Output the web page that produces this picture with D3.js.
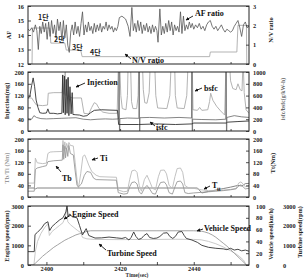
<!DOCTYPE html>
<html><head><meta charset="utf-8">
<script src="https://cdn.jsdelivr.net/npm/d3@7"></script>
<style>
html,body{margin:0;padding:0;background:#fff;}
svg{display:block;}
</style></head>
<body><svg id="c" width="304" height="278"></svg>
<script>
// ---------------- DATA ----------------
const timeDomain = [2395, 2455];
const timeTicks = [2400, 2420, 2440];
const timeMinorTicks = [2410, 2430, 2450];

const afTicks = [12, 13, 14, 15, 16];
const nvTicks = [0, 1, 2, 3];
const injTicks = [0, 40, 80, 120, 160, 200];
const sfcTicks = [0, 200, 400, 600, 800, 1000];
const torqueTicks = [0, 40, 80, 120, 160, 200];
const ttTicks = [0, 40, 80, 120, 160, 200];
const engTicks = [0, 1000, 2000, 3000];
const vehTicks = [0, 20, 40, 60, 80, 100];
const turbTicks = [0, 1000, 2000, 3000];

const gearLabels = ["1단", "2단", "3단", "4단"];

// AF ratio [time, AF]
const afData = [[2395.0,14.4],[2395.5,14.3],[2396.0,14.5],[2396.5,14.2],[2397.0,14.7],[2397.4,14.3],[2397.8,13.0],[2398.2,14.6],[2398.6,14.1],[2399.0,14.9],[2399.4,14.2],[2399.8,14.8],[2400.2,13.7],[2400.6,14.9],[2401.0,13.9],[2401.4,15.0],[2401.8,14.1],[2402.2,14.7],[2402.6,13.8],[2403.0,15.1],[2403.4,14.3],[2403.8,14.9],[2404.2,13.6],[2404.6,15.0],[2405.0,13.8],[2405.4,14.7],[2405.8,13.3],[2406.2,12.8],[2406.6,14.2],[2407.0,14.7],[2407.4,14.0],[2407.8,14.9],[2408.2,14.1],[2408.6,14.6],[2409.0,13.9],[2409.4,14.8],[2409.8,15.6],[2410.2,14.0],[2410.6,14.7],[2411.0,14.2],[2411.4,14.9],[2411.8,14.3],[2412.2,14.6],[2412.6,14.1],[2413.0,14.8],[2413.4,14.2],[2413.8,14.7],[2414.2,14.3],[2414.6,14.8],[2415.0,14.2],[2415.4,14.6],[2415.8,14.4],[2416.2,14.9],[2416.6,14.3],[2417.0,14.7],[2417.4,14.4],[2417.8,14.6],[2418.2,14.2],[2418.6,14.5],[2419.0,14.3],[2419.4,14.6],[2419.8,15.2],[2420.5,15.3],[2421.5,15.1],[2422.2,14.6],[2422.7,13.9],[2423.2,15.9],[2423.6,14.3],[2424.0,14.8],[2424.4,14.2],[2424.8,15.0],[2425.2,14.3],[2425.6,14.9],[2426.0,14.1],[2426.4,14.7],[2426.8,14.3],[2427.2,14.8],[2427.6,14.2],[2428.0,14.6],[2428.4,14.1],[2428.8,14.7],[2429.2,14.2],[2429.6,14.6],[2430.0,14.3],[2430.3,13.5],[2430.8,15.8],[2431.2,14.0],[2431.6,14.6],[2432.0,14.1],[2432.4,14.8],[2432.8,14.2],[2433.2,15.0],[2433.6,14.3],[2434.0,14.9],[2434.4,14.0],[2434.8,14.7],[2435.2,14.3],[2435.6,14.6],[2436.0,14.2],[2436.4,15.6],[2436.8,14.1],[2437.2,15.3],[2437.6,14.3],[2438.0,14.7],[2438.4,14.4],[2438.8,14.9],[2439.2,14.5],[2439.6,14.8],[2440.0,14.4],[2440.5,14.7],[2441.0,14.5],[2441.5,14.8],[2442.0,14.4],[2442.5,14.6],[2443.0,14.3],[2443.5,14.7],[2444.0,14.9],[2444.5,15.0],[2445.0,14.6],[2445.5,14.4],[2446.0,14.6],[2446.5,14.3],[2447.0,14.5],[2447.5,14.7],[2448.0,14.4],[2448.5,14.2],[2449.0,14.4],[2449.5,14.3],[2450.0,14.2],[2450.5,14.3],[2451.0,14.6],[2451.5,14.8],[2452.0,15.0],[2452.5,14.5],[2453.0,13.9],[2453.5,14.7],[2454.0,14.9],[2454.5,14.5],[2455.0,14.6]];

// N/V ratio [time, ratio]
const nvData = [[2395,0],[2396.1,0],[2396.2,1.86],[2400.9,1.86],[2401.2,1.08],[2405.0,1.08],[2405.4,0.72],[2409.3,0.72],[2409.7,0.38],[2444.3,0.38],[2444.5,0.62],[2451.7,0.62],[2452.0,2.0],[2454.3,2.0],[2454.4,0],[2455,0]];

// Injection [time, mg]
const injData = [[2395,110],[2395.5,118],[2396.0,155],[2396.4,180],[2396.8,150],[2397.2,105],[2397.7,80],[2398.2,62],[2399.0,60],[2400.0,61],[2400.4,75],[2400.8,60],[2402.0,60],[2403.0,58],[2404.2,60],[2404.4,190],[2404.6,62],[2404.9,186],[2405.1,55],[2405.4,175],[2405.6,60],[2405.9,182],[2406.1,52],[2406.4,150],[2406.7,58],[2407.0,130],[2407.2,56],[2408.0,55],[2409.0,54],[2410.0,50],[2411.0,52],[2412.0,62],[2413.0,70],[2415.0,72],[2417.0,71],[2419.3,70],[2419.6,22],[2425.0,22],[2430,24],[2435,22],[2439.5,24],[2440,27],[2448.8,27],[2449.2,30],[2452,32],[2455,34]];

// bsfc [time, g/kWh]
const bsfcData = [[2395,560],[2396.0,560],[2396.6,500],[2397.3,440],[2399.0,430],[2400.3,440],[2400.5,640],[2402.0,650],[2404.3,650],[2404.5,950],[2404.7,620],[2405.1,1000],[2405.3,600],[2405.8,900],[2406.2,580],[2407.0,560],[2409.5,560],[2410.2,300],[2411.5,290],[2412.3,400],[2413.0,480],[2413.6,460],[2414.3,380],[2415.3,320],[2417.0,300],[2419.2,300],[2419.7,1500],[2420.2,600],[2420.6,380],[2421.6,360],[2422.0,600],[2422.3,1500],[2422.7,1500],[2423.1,500],[2423.5,380],[2424.5,380],[2424.9,600],[2425.2,1500],[2425.9,1500],[2426.3,700],[2426.7,480],[2427.3,470],[2427.9,650],[2428.4,1500],[2429.2,1500],[2429.7,600],[2430.2,390],[2432.7,380],[2433.5,600],[2434.1,1500],[2434.7,1500],[2435.0,600],[2435.5,390],[2437.4,380],[2438.1,600],[2438.7,1500],[2439.5,1500],[2439.8,360],[2441,350],[2441.6,400],[2442.2,350],[2443.8,360],[2444.3,500],[2444.6,640],[2445.2,520],[2446.2,420],[2447.3,340],[2448.4,270],[2448.9,1500],[2449.4,1500],[2450.0,850],[2450.6,720],[2451.5,700],[2452.0,800],[2452.6,700],[2453.1,680],[2453.4,1200],[2453.7,650],[2454.2,360],[2455,300]];

// isfc [time, g/kWh]
const isfcData = [[2395,210],[2396.0,200],[2396.6,260],[2397.3,230],[2398.5,210],[2400.0,205],[2402.0,210],[2404.0,215],[2406.0,220],[2408.0,225],[2410.0,200],[2412.0,190],[2414.0,200],[2416.0,205],[2418.0,200],[2419.6,205],[2419.75,2000],[2419.85,-500],[2419.95,210],[2422,220],[2425.1,215],[2425.2,2000],[2425.3,-500],[2425.4,225],[2428,230],[2432,220],[2436,230],[2439.4,220],[2439.5,2000],[2439.6,-500],[2439.7,200],[2442,195],[2446,190],[2448.7,200],[2448.8,2000],[2448.9,-500],[2449.0,230],[2451,260],[2453,240],[2455,230]];

// Ti [time, Nm]
const tiData = [[2395,48],[2396.7,48],[2397.0,134],[2397.5,118],[2399.0,115],[2400.0,117],[2400.4,150],[2401,155],[2402,156],[2404.3,157],[2404.5,195],[2404.7,160],[2405.0,190],[2405.2,165],[2405.5,185],[2405.8,170],[2406.1,188],[2406.5,178],[2407.3,176],[2407.8,120],[2408.3,60],[2408.7,30],[2409.3,80],[2409.9,140],[2410.4,145],[2410.9,130],[2411.5,110],[2412.3,88],[2413.5,75],[2414.5,70],[2419.0,68],[2419.5,24],[2421.0,18],[2422.0,20],[2422.6,60],[2423.2,90],[2424.0,93],[2424.6,85],[2425.2,40],[2425.8,20],[2426.6,60],[2427.3,75],[2428.0,55],[2428.8,30],[2429.6,25],[2430.4,70],[2431.0,92],[2432.0,93],[2432.6,80],[2433.3,40],[2434.2,30],[2434.9,70],[2435.5,98],[2436.4,100],[2437.0,85],[2437.6,40],[2438.5,32],[2440,30],[2442,25],[2444,22],[2446,22],[2448,24],[2450,26],[2451.5,30],[2452.2,48],[2452.8,52],[2453.4,45],[2454,35],[2455,38]];

// Tb [time, Nm]
const tbData = [[2395,20],[2396.7,20],[2397.0,95],[2397.5,100],[2399.0,105],[2400.0,108],[2400.4,122],[2402,125],[2404.3,127],[2404.5,180],[2404.7,130],[2405.0,175],[2405.2,135],[2405.5,170],[2405.8,140],[2406.1,178],[2406.5,150],[2407.3,145],[2407.8,90],[2408.3,40],[2408.7,35],[2409.5,45],[2410.3,75],[2411.0,88],[2412.0,85],[2412.8,65],[2413.5,60],[2419.0,58],[2419.5,15],[2421.0,10],[2422.0,12],[2422.6,35],[2423.2,50],[2424.0,52],[2424.6,45],[2425.2,18],[2425.8,10],[2426.6,30],[2427.3,40],[2428.0,28],[2428.8,12],[2429.6,10],[2430.4,35],[2431.0,50],[2432.0,52],[2432.6,42],[2433.3,15],[2434.2,10],[2434.9,35],[2435.5,53],[2436.4,55],[2437.0,45],[2437.6,15],[2438.5,12],[2440,14],[2442,16],[2444,18],[2446,20],[2448,22],[2450,25],[2451.5,28],[2452.2,38],[2452.8,42],[2453.4,35],[2454,28],[2455,30]];

// Tt [time, Nm]
const ttData = [[2395,31],[2396.7,31],[2397.0,28],[2397.5,31],[2441.0,31],[2442.2,14],[2444,19],[2446,24],[2448,29],[2450,34],[2452,40],[2453,38],[2454,46],[2455,47]];

// Engine speed [time, rpm]
const engineData = [[2395,680],[2396.7,680],[2396.9,1550],[2397.5,1650],[2398.7,1880],[2399.5,2100],[2400.4,2200],[2400.9,1750],[2401.5,1950],[2402.5,2120],[2403.5,2280],[2404.5,2400],[2405.3,2700],[2405.6,3050],[2405.9,2450],[2406.3,2600],[2407.0,2450],[2408.3,2400],[2409.0,2000],[2409.8,1530],[2410.8,1850],[2411.5,1500],[2413.2,1370],[2415,1380],[2417,1420],[2419,1380],[2420.5,1350],[2421.5,1400],[2422.4,1270],[2423.0,1400],[2423.7,1680],[2424.3,1450],[2425.0,1300],[2425.8,1350],[2426.5,1500],[2427.3,1600],[2428.0,1400],[2429.0,1350],[2430.0,1370],[2430.8,1450],[2431.8,1620],[2432.8,1640],[2433.5,1450],[2434.3,1350],[2435.0,1450],[2435.8,1680],[2436.8,1700],[2437.4,1500],[2438.0,1350],[2439.5,1270],[2441.0,1150],[2442.2,1000],[2444,900],[2446,850],[2448,820],[2449,780],[2450,850],[2451,760],[2452,800],[2453,720],[2454,760],[2455,700]];

// Vehicle speed [time, km/h]
const vehicleData = [[2395,0],[2396.4,0],[2397.0,3],[2398,9],[2399,15],[2400,20],[2401,25],[2402,30],[2403,34],[2404,38],[2405,42],[2406,45],[2407,48],[2408,51],[2409,53],[2410,55],[2411,57],[2412,58],[2420,58],[2430,58],[2440,58],[2442,57.5],[2443,56],[2444,54],[2445,51],[2446,47],[2447,42],[2448,37],[2449,32],[2450,26],[2451,20],[2452,14],[2453,8],[2454,2],[2454.3,0],[2455,0]];

// Turbine speed [time, rpm]
const turbineData = [[2395,0],[2396.6,0],[2397.0,700],[2397.6,1200],[2398.5,1600],[2399.5,1900],[2400.4,2100],[2400.8,1500],[2401.5,1700],[2402.5,1850],[2403.5,2000],[2404.5,2150],[2405.0,2400],[2405.5,2900],[2405.8,2200],[2406.5,2050],[2407.5,1900],[2408.5,1750],[2409.3,1650],[2409.8,1400],[2411,1330],[2413,1300],[2420,1290],[2425,1300],[2430,1300],[2435,1310],[2440,1300],[2442,1280],[2444,1200],[2446,1080],[2448,920],[2450,720],[2451.5,560],[2452.5,420],[2453.5,250],[2454.3,0],[2455,0]];

// ---------------- DRAW ----------------
const svg = d3.select('#c');
const X0 = 28, X1 = 249;
const x = d3.scaleLinear().domain(timeDomain).range([X0, X1]);
const panels = [{top:6,bottom:64},{top:72,bottom:131},{top:139,bottom:197},{top:206,bottom:265}];
const serif = "'Liberation Serif','DejaVu Serif',serif";

const yAF = d3.scaleLinear().domain([12,16]).range([panels[0].bottom, panels[0].top]);
const yNV = d3.scaleLinear().domain([0,3]).range([panels[0].bottom, panels[0].top]);
const yInj = d3.scaleLinear().domain([0,200]).range([panels[1].bottom, panels[1].top]);
const ySfc = d3.scaleLinear().domain([0,1000]).range([panels[1].bottom, panels[1].top]);
const yT = d3.scaleLinear().domain([0,200]).range([panels[2].bottom, panels[2].top]);
const yTt = d3.scaleLinear().domain([0,200]).range([panels[2].bottom, panels[2].top]);
const yEng = d3.scaleLinear().domain([0,3000]).range([panels[3].bottom, panels[3].top]);
const yVeh = d3.scaleLinear().domain([0,100]).range([panels[3].bottom, panels[3].top]);
const yTurb = d3.scaleLinear().domain([0,3000]).range([panels[3].bottom, panels[3].top]);

const defs = svg.append('defs');
panels.forEach((p,i)=>{
  defs.append('clipPath').attr('id','clip'+i).append('rect')
    .attr('x',X0).attr('y',p.top).attr('width',X1-X0).attr('height',p.bottom-p.top);
});
defs.append('marker').attr('id','arr').attr('viewBox','0 0 10 10').attr('refX',9).attr('refY',5)
  .attr('markerWidth',4).attr('markerHeight',4).attr('orient','auto')
  .append('path').attr('d','M0,0L10,5L0,10z').attr('fill','#111');

const series = [
  {data:nvData, y:yNV, p:0, color:'#aaa', w:0.9},
  {data:afData, y:yAF, p:0, color:'#555', w:0.8},
  {data:bsfcData, y:ySfc, p:1, color:'#aaa', w:0.9},
  {data:isfcData, y:ySfc, p:1, color:'#666', w:0.8},
  {data:injData, y:yInj, p:1, color:'#333', w:0.9},
  {data:ttData, y:yTt, p:2, color:'#777', w:0.9},
  {data:tiData, y:yT, p:2, color:'#bbb', w:0.9},
  {data:tbData, y:yT, p:2, color:'#999', w:0.9},
  {data:turbineData, y:yTurb, p:3, color:'#c4c4c4', w:0.9},
  {data:vehicleData, y:yVeh, p:3, color:'#999', w:0.9},
  {data:engineData, y:yEng, p:3, color:'#333', w:0.9},
];
series.forEach(s=>{
  const line = d3.line().x(d=>x(d[0])).y(d=>s.y(d[1]));
  svg.append('path').datum(s.data).attr('d',line).attr('fill','none')
    .attr('stroke',s.color).attr('stroke-width',s.w).attr('clip-path',`url(#clip${s.p})`);
});

// frames
panels.forEach(p=>{
  svg.append('rect').attr('x',X0).attr('y',p.top).attr('width',X1-X0).attr('height',p.bottom-p.top)
    .attr('fill','none').attr('stroke','#222').attr('stroke-width',1);
});

function styleAxis(g){
  g.select('.domain').remove();
  g.selectAll('line').attr('stroke','#222').attr('stroke-width',0.8);
  g.selectAll('text').attr('font-family',serif).attr('font-size',6.3).attr('font-weight','bold').attr('fill','#222');
}
function leftAxis(scale, ticks, fmt){
  const g = svg.append('g').attr('transform',`translate(${X0},0)`)
    .call(d3.axisLeft(scale).tickValues(ticks).tickSize(-3).tickPadding(4).tickFormat(fmt||d3.format('d')));
  styleAxis(g);
}
function rightAxis(scale, ticks, xpos, withTicks){
  const g = svg.append('g').attr('transform',`translate(${xpos},0)`)
    .call(d3.axisRight(scale).tickValues(ticks).tickSize(withTicks? -3:0).tickPadding(withTicks?4:0).tickFormat(d3.format('d')));
  styleAxis(g);
  return g;
}
leftAxis(yAF, afTicks); rightAxis(yNV, nvTicks, X1, true);
leftAxis(yInj, injTicks); rightAxis(ySfc, sfcTicks, X1, true);
leftAxis(yT, torqueTicks); rightAxis(yTt, ttTicks, X1, true);
leftAxis(yEng, engTicks); rightAxis(yVeh, vehTicks, X1+7, false).selectAll('line').remove();
svg.append('g').attr('transform',`translate(${X1},0)`)
  .call(d3.axisRight(yVeh).tickValues(vehTicks).tickSize(-3).tickFormat('')).call(styleAxis);
rightAxis(yTurb, turbTicks, 283, false);

// bottom axis
const gx = svg.append('g').attr('transform',`translate(0,${panels[3].bottom})`)
  .call(d3.axisBottom(x).tickValues(timeTicks).tickSize(-3).tickPadding(2).tickFormat(d3.format('d')));
styleAxis(gx);
const gxm = svg.append('g').attr('transform',`translate(0,${panels[3].bottom})`)
  .call(d3.axisBottom(x).tickValues(timeMinorTicks).tickSize(-3).tickFormat(''));
styleAxis(gxm);
panels.slice(0,3).forEach(p=>{
  const g = svg.append('g').attr('transform',`translate(0,${p.bottom})`)
    .call(d3.axisBottom(x).tickValues(timeTicks.concat(timeMinorTicks)).tickSize(-2).tickFormat(''));
  styleAxis(g);
});

// axis titles
function vtitle(txt, cx, cy, color, size){
  svg.append('text').attr('transform',`translate(${cx},${cy}) rotate(-90)`)
    .attr('text-anchor','middle').attr('dominant-baseline','central')
    .attr('font-family',serif).attr('font-weight','bold').attr('font-size',size||6.3)
    .attr('fill',color||'#222').text(txt);
}
vtitle('AF', 8, 35);
vtitle('Injection(mg)', 6, 101);
vtitle('Tb/Ti (Nm)', 6, 168, '#999');
vtitle('Engine  speed(rpm)', 6, 236);
vtitle('N/V ratio', 270, 30);
vtitle('isfc/bsfc(g/kW-h)', 283, 99, '#666', 5.8);
vtitle('Tt(Nm)', 272, 163);
vtitle('Vehicle speed(km/h)', 271, 234, '#222', 6);
vtitle('Turbine speed(rpm)', 300, 232, '#222', 6);

svg.append('text').attr('x',137).attr('y',277).attr('text-anchor','middle')
  .attr('font-family',serif).attr('font-weight','bold').attr('font-size',5.5).attr('fill','#333').text('Time(sec)');

// annotations
function label(txt, lx, ly, size){
  svg.append('text').attr('x',lx).attr('y',ly).attr('font-family',serif).attr('font-weight','bold')
    .attr('font-size',size||8).attr('fill','#111').text(txt);
}
function arrow(x1,y1,x2,y2){
  svg.append('line').attr('x1',x1).attr('y1',y1).attr('x2',x2).attr('y2',y2)
    .attr('stroke','#111').attr('stroke-width',0.9).attr('marker-end','url(#arr)');
}
label('AF ratio', 195, 16); arrow(193,16,186,20);
label('N/V ratio', 132, 63); arrow(131,59,125,54);
label('Injection', 87, 85); arrow(85,83,76,87);
label('bsfc', 204, 91); arrow(202,88,195,91);
label('isfc', 156, 130); arrow(155,126,150,122);
label('Ti', 100, 161); arrow(98,158,92,160);
label('Tb', 62, 181); arrow(61,172,56,166);
label('T', 212, 188); label('tt', 217, 191, 5.5); arrow(210,186,204,189);
label('Engine Speed', 72, 217); arrow(71,215,64,219);
label('Turbine Speed', 107, 256); arrow(106,250,99,244);
label('Vehicle Speed', 204, 231); arrow(203,229,197,231);

const gearPos = [[38,20],[54,42],[72,50],[90,55]];
gearLabels.forEach((g,i)=>{
  svg.append('text').attr('x',gearPos[i][0]).attr('y',gearPos[i][1])
    .attr('font-family',"'Noto Sans CJK KR',sans-serif").attr('font-weight','bold')
    .attr('font-size',7).attr('fill','#222').text(g);
});
</script>
</body></html>
